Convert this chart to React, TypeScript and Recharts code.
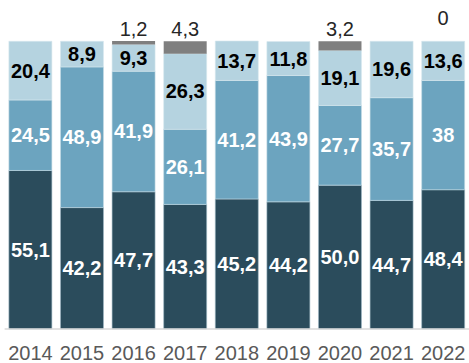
import React from "react";
import { BarChart, Bar, XAxis, YAxis, LabelList } from "recharts";

const years = ["2014", "2015", "2016", "2017", "2018", "2019", "2020", "2021", "2022"];
const darkValues = [55.1, 42.2, 47.7, 43.3, 45.2, 44.2, 50.0, 44.7, 48.4];
const midValues = [24.5, 48.9, 41.9, 26.1, 41.2, 43.9, 27.7, 35.7, 38];
const lightValues = [20.4, 8.9, 9.3, 26.3, 13.7, 11.8, 19.1, 19.6, 13.6];
const grayValues: (number | null)[] = [null, null, 1.2, 4.3, null, null, 3.2, null, 0];
const darkLabels = ["55,1", "42,2", "47,7", "43,3", "45,2", "44,2", "50,0", "44,7", "48,4"];
const midLabels = ["24,5", "48,9", "41,9", "26,1", "41,2", "43,9", "27,7", "35,7", "38"];
const lightLabels = ["20,4", "8,9", "9,3", "26,3", "13,7", "11,8", "19,1", "19,6", "13,6"];
const grayLabels = ["", "", "1,2", "4,3", "", "", "3,2", "", "0"];

const data = years.map((y, i) => ({
  year: y,
  dark: darkValues[i],
  mid: midValues[i],
  light: lightValues[i],
  gray: grayValues[i],
  darkLabel: darkLabels[i],
  midLabel: midLabels[i],
  lightLabel: lightLabels[i],
  grayLabel: grayLabels[i],
}));

const FONT = "'Liberation Sans', Arial, sans-serif";

const centerLabel = (fill: string) => (props: any) => {
  const { x, y, width, height, value } = props;
  if (!value) return null;
  return (
    <text
      x={x + width / 2}
      y={y + height / 2}
      dy={7}
      textAnchor="middle"
      fill={fill}
      fontFamily={FONT}
      fontSize={20}
      fontWeight="bold"
    >
      {value}
    </text>
  );
};

// labels above non-zero gray segments
const grayLabel = (props: any) => {
  const { x, y, width, value } = props;
  if (value === "" || value == null || value === "0") return null;
  return (
    <text
      x={x + width / 2}
      y={y}
      dy={-5}
      textAnchor="middle"
      fill="#262626"
      fontFamily={FONT}
      fontSize={20}
    >
      {value}
    </text>
  );
};

// label for a zero-valued gray segment, drawn from the top of the light segment
const zeroGrayLabel = (props: any) => {
  const { x, y, width, value } = props;
  if (value !== "0") return null;
  return (
    <text
      x={x + width / 2}
      y={y}
      dy={-16}
      textAnchor="middle"
      fill="#262626"
      fontFamily={FONT}
      fontSize={20}
    >
      {value}
    </text>
  );
};

export default function App() {
  return (
    <div style={{ position: "absolute", left: 0, top: 0 }}>
      <BarChart
        width={469}
        height={363}
        data={data}
        margin={{ top: 41, right: 0, bottom: 0, left: 4.6 }}
        barCategoryGap="8.3%"
      >
        <XAxis
          dataKey="year"
          axisLine={{ stroke: "#D9D9D9", strokeWidth: 1.5 }}
          tickLine={false}
          height={34}
          interval={0}
          tick={{ fill: "#595959", fontSize: 20, fontFamily: FONT }}
          tickMargin={11}
        />
        <YAxis hide domain={[0, 100]} />
        <Bar dataKey="dark" stackId="a" fill="#2B4C5C" stroke="#9fb9c6" strokeWidth={0.6} isAnimationActive={false}>
          <LabelList dataKey="darkLabel" content={centerLabel("#ffffff")} />
        </Bar>
        <Bar dataKey="mid" stackId="a" fill="#6CA4BF" stroke="#c4dbe6" strokeWidth={0.6} isAnimationActive={false}>
          <LabelList dataKey="midLabel" content={centerLabel("#ffffff")} />
        </Bar>
        <Bar dataKey="light" stackId="a" fill="#B5D3E0" stroke="#d7e8ef" strokeWidth={0.6} isAnimationActive={false}>
          <LabelList dataKey="lightLabel" content={centerLabel("#000000")} />
          <LabelList dataKey="grayLabel" content={zeroGrayLabel} />
        </Bar>
        <Bar dataKey="gray" stackId="a" fill="#7F7F7F" isAnimationActive={false}>
          <LabelList dataKey="grayLabel" content={grayLabel} />
        </Bar>
      </BarChart>
    </div>
  );
}
